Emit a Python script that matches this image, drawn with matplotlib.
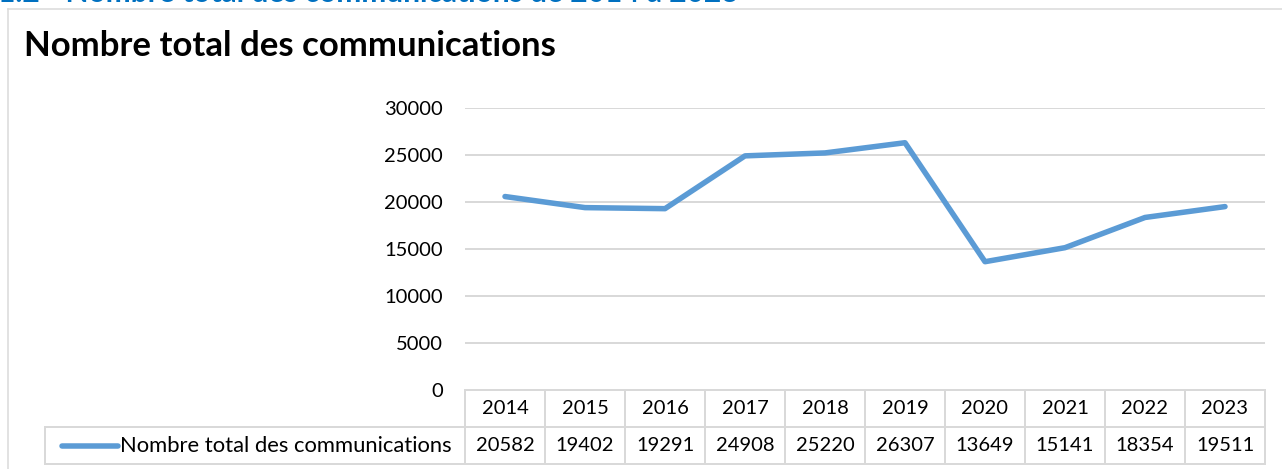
import matplotlib
matplotlib.use('Agg')
import matplotlib.pyplot as plt
from matplotlib.transforms import blended_transform_factory

# ---- data ----
years = ['2014', '2015', '2016', '2017', '2018', '2019', '2020', '2021', '2022', '2023']
values = [20582, 19402, 19291, 24908, 25220, 26307, 13649, 15141, 18354, 19511]
series_name = 'Nombre total des communications'
chart_title = 'Nombre total des communications'
heading = '1.2 - Nombre total des communications de 2014 à 2023'
yticks = [0, 5000, 10000, 15000, 20000, 25000, 30000]

plt.rcParams['font.family'] = ['Lato', 'DejaVu Sans']

W, H = 1282, 469
fig = plt.figure(figsize=(W / 100, H / 100), dpi=100)


def fx(px):
    return px / W


def fy(py):
    return 1 - py / H


grid_c = '#D9D9D9'
line_c = '#5B9BD5'
px = 0.72  # points per pixel

# chart border
fig.add_artist(plt.Line2D([fx(8), 1], [fy(9), fy(9)], color=grid_c, lw=1.5 * px, transform=fig.transFigure))
fig.add_artist(plt.Line2D([fx(8), fx(8)], [fy(9), 0], color=grid_c, lw=1.5 * px, transform=fig.transFigure))

# cut-off heading above chart
fig.text(fx(-2), fy(2), heading, color='#0070C0', fontsize=21.5, fontweight='bold',
         ha='left', va='baseline')

# title
fig.text(fx(24), fy(56), chart_title, fontsize=25, fontweight='bold', color='black',
         ha='left', va='baseline')

ax = fig.add_axes([fx(465), fy(390), fx(1265) - fx(465), fy(108) - fy(390)])
x = list(range(len(years)))
ax.plot(x, values, color=line_c, lw=5.5 * px, solid_capstyle='round', solid_joinstyle='round', zorder=3)
ax.set_xlim(-0.5, len(years) - 0.5)
ax.set_ylim(yticks[0], yticks[-1])
ax.set_yticks(yticks)
ax.set_yticklabels([str(t) for t in yticks])
ax.set_xticks([])
ax.grid(axis='y', color=grid_c, lw=2 * px)
ax.set_axisbelow(True)
for s in ax.spines.values():
    s.set_visible(False)
ax.tick_params(axis='y', length=0, pad=22 * px, labelsize=14.5, labelcolor='black')

# data table
tr = blended_transform_factory(ax.transData, fig.transFigure)
y_top, y_mid, y_bot = 390, 427, 464
n = len(years)
tl = dict(color=grid_c, lw=2 * px, clip_on=False)
ax.plot([-0.5, n - 0.5], [fy(y_top)] * 2, transform=tr, **tl)
for yy in (y_mid, y_bot):
    fig.add_artist(plt.Line2D([fx(45), fx(1265)], [fy(yy)] * 2, transform=fig.transFigure,
                              color=grid_c, lw=2 * px))
for i in range(n + 1):
    ax.plot([i - 0.5, i - 0.5], [fy(y_top), fy(y_bot)], transform=tr, **tl)
fig.add_artist(plt.Line2D([fx(45), fx(45)], [fy(y_mid), fy(y_bot)], transform=fig.transFigure, color=grid_c, lw=2 * px))

for i, (yr, v) in enumerate(zip(years, values)):
    ax.text(i, fy((y_top + y_mid) / 2), yr, transform=tr, ha='center', va='center', fontsize=14.5, clip_on=False)
    ax.text(i, fy((y_mid + y_bot) / 2), str(v), transform=tr, ha='center', va='center', fontsize=14.5, clip_on=False)

# legend key in table
fig.add_artist(plt.Line2D([fx(62), fx(118)], [fy((y_mid + y_bot) / 2)] * 2, color=line_c, lw=5.5 * px,
                          solid_capstyle='round', transform=fig.transFigure))
fig.text(fx(120), fy((y_mid + y_bot) / 2), series_name, ha='left', va='center', fontsize=15.8)

fig.savefig('out.png', dpi=100)
